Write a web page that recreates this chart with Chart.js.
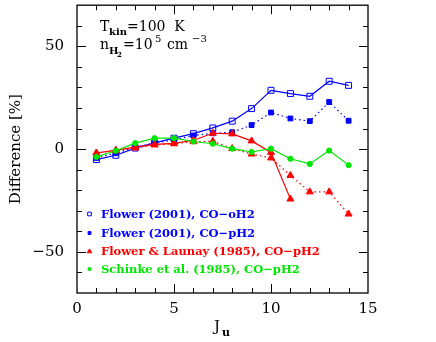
<!DOCTYPE html>
<html>
<head>
<meta charset="utf-8">
<title>Difference vs J_u</title>
<script src="https://cdn.jsdelivr.net/npm/chart.js"></script>
<style>
  html, body { margin: 0; padding: 0; background: #fff; }
  #wrap { width: 436px; height: 342px; }
</style>
</head>
<body>
<div id="wrap"><canvas id="chart" width="436" height="342"></canvas></div>
<script>
// values
const ju = [1, 2, 3, 4, 5, 6, 7, 8, 9, 10, 11, 12, 13, 14];
const flowerOH2 = [-5.1, -3.0, 0.5, 3.0, 5.3, 7.5, 10.3, 13.6, 19.7, 28.6, 27.0, 25.7, 33.0, 31.0];
const flowerPH2 = [-4.3, -2.0, 1.0, 2.9, 4.5, 6.6, 7.7, 8.2, 11.7, 17.8, 14.9, 13.6, 22.9, 13.8];
const launaySolid = [-1.9, -0.5, 1.0, 2.3, 2.8, 4.3, 7.7, 7.4, 4.0, -1.6, -24.3];
const launayDotted = [-1.9, -0.8, 0.5, 2.0, 2.6, 3.6, 3.8, 0.3, -2.4, -4.3, -12.8, -20.8, -20.8, -31.6];
const schinke = [-3.8, -0.8, 2.9, 5.3, 5.3, 3.7, 2.6, 0.2, -1.4, 0.2, -4.7, -7.2, -0.7, -7.8];
const xTicks = [0, 5, 10, 15];
const yTicks = [50, 0, -50];

const BLUE = '#0000ff', RED = '#ff0000', GREEN = '#00e600';
const SERIF = '"DejaVu Serif", serif';

function pts(vals) {
  return vals.map((v, i) => ({ x: ju[i], y: v }));
}

const legendItems = [
  { text: 'Flower (2001), CO\u2212oH2', color: BLUE, style: 'rect', fill: false, r: 2.6, y: 214 },
  { text: 'Flower (2001), CO\u2212pH2', color: BLUE, style: 'rect', fill: true, r: 2, y: 233 },
  { text: 'Flower & Launay (1985), CO\u2212pH2', color: RED, style: 'triangle', fill: true, r: 2.6, y: 251.5 },
  { text: 'Schinke et al. (1985), CO\u2212pH2', color: GREEN, style: 'circle', fill: true, r: 1.6, y: 269 }
];

const decor = {
  id: 'decor',
  afterDraw(chart) {
    const { ctx, chartArea: a, scales: { x, y } } = chart;
    ctx.save();
    ctx.strokeStyle = '#000';
    ctx.lineWidth = 1;
    ctx.beginPath();
    // inward ticks on every side
    for (let v = 1; v < 15; v++) {
      const px = Math.round(x.getPixelForValue(v)) + 0.5;
      const len = v % 5 === 0 ? 9 : 5;
      ctx.moveTo(px, a.bottom); ctx.lineTo(px, a.bottom - len);
      ctx.moveTo(px, a.top); ctx.lineTo(px, a.top + len);
    }
    for (let v = -60; v <= 60; v += 10) {
      const py = Math.round(y.getPixelForValue(v)) + 0.5;
      const len = v % 50 === 0 ? 9 : 5;
      ctx.moveTo(a.left, py); ctx.lineTo(a.left + len, py);
      ctx.moveTo(a.right, py); ctx.lineTo(a.right - len, py);
    }
    ctx.stroke();
    ctx.lineWidth = 1.3;
    ctx.strokeRect(a.left, a.top, a.right - a.left, a.bottom - a.top);

    // tick labels
    ctx.fillStyle = '#000';
    ctx.font = '15px ' + SERIF;
    ctx.textBaseline = 'middle';
    ctx.textAlign = 'right';
    yTicks.forEach(v => ctx.fillText(v < 0 ? '\u2212' + (-v) : String(v), 64, y.getPixelForValue(v)));
    ctx.textAlign = 'center';
    xTicks.forEach(v => ctx.fillText(String(v), x.getPixelForValue(v), 309));

    // axis titles
    ctx.textBaseline = 'alphabetic';
    ctx.save();
    ctx.translate(20, (a.top + a.bottom) / 2);
    ctx.rotate(-Math.PI / 2);
    ctx.fillText('Difference [%]', 0, 0);
    ctx.restore();
    ctx.textAlign = 'left';
    ctx.fillText('J', 214, 331);
    ctx.font = 'bold 11px ' + SERIF;
    ctx.fillText('u', 222, 336);

    // annotation
    ctx.font = '14px ' + SERIF;
    ctx.fillText('T', 100, 31);
    ctx.font = 'bold 10px ' + SERIF;
    ctx.fillText('kin', 109, 35);
    ctx.font = '14px ' + SERIF;
    ctx.fillText('=100  K', 127, 31);
    ctx.fillText('n', 100, 49);
    ctx.font = 'bold 10px ' + SERIF;
    ctx.fillText('H', 109, 54);
    ctx.font = 'bold 7px ' + SERIF;
    ctx.fillText('2', 117, 57);
    ctx.font = '14px ' + SERIF;
    ctx.fillText('=10', 123, 49);
    ctx.font = '10px ' + SERIF;
    ctx.fillText('5', 155, 42);
    ctx.font = '14px ' + SERIF;
    ctx.fillText('cm', 167, 49);
    ctx.font = '10px ' + SERIF;
    ctx.fillText('\u22123', 192, 42);

    // legend
    ctx.font = 'bold 11.5px ' + SERIF;
    ctx.textBaseline = 'middle';
    legendItems.forEach(it => {
      ctx.fillStyle = it.fill ? it.color : 'rgba(0,0,0,0)';
      ctx.strokeStyle = it.color;
      ctx.lineWidth = 1;
      Chart.helpers.drawPoint(ctx, { pointStyle: it.style, radius: it.r, borderWidth: 1 }, 89.5, it.y);
      ctx.fillStyle = it.color;
      ctx.fillText(it.text, 101, it.y + 1);
    });
    ctx.restore();
  }
};

function series(vals, color, dotted, style, fill, r) {
  return {
    data: pts(vals),
    borderColor: color,
    borderWidth: 1.2,
    borderDash: dotted ? [1.5, 3] : [],
    pointStyle: style,
    pointRadius: r,
    pointBorderWidth: 1,
    pointBorderColor: color,
    pointBackgroundColor: fill ? color : 'rgba(0,0,0,0)',
    tension: 0
  };
}

new Chart(document.getElementById('chart'), {
  type: 'line',
  data: {
    datasets: [
      series(schinke, GREEN, false, 'circle', true, 2.6),
      series(launayDotted, RED, true, 'triangle', true, 4),
      series(launaySolid, RED, false, 'triangle', true, 4),
      series(flowerPH2, BLUE, true, 'rect', true, 3.4),
      series(flowerOH2, BLUE, false, 'rect', false, 4.2)
    ]
  },
  options: {
    responsive: false,
    animation: false,
    layout: { padding: { left: 0, right: 68, top: 3, bottom: 0 } },
    plugins: { legend: { display: false }, tooltip: { enabled: false } },
    scales: {
      x: {
        type: 'linear', min: 0, max: 15,
        grid: { display: false, drawTicks: false },
        border: { display: false },
        ticks: { display: false, stepSize: 5 },
        afterFit: s => { s.height = 49; }
      },
      y: {
        min: -70, max: 70,
        grid: { display: false, drawTicks: false },
        border: { display: false },
        ticks: { display: false, stepSize: 10 },
        afterFit: s => { s.width = 77; }
      }
    }
  },
  plugins: [decor]
});
</script>
</body>
</html>
